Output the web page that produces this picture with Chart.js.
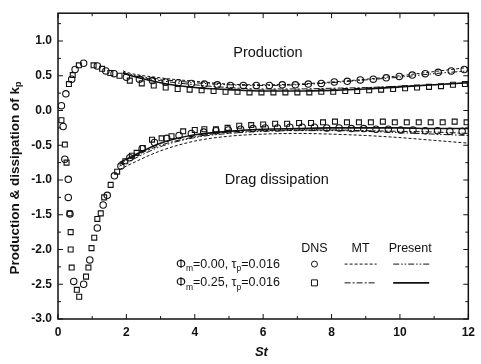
<!DOCTYPE html>
<html>
<head>
<meta charset="utf-8">
<script src="https://cdn.jsdelivr.net/npm/chart.js@4.4.1/dist/chart.umd.min.js"></script>
<style>
  html, body { margin: 0; padding: 0; background: #fff; }
  #wrap { width: 481px; height: 364px; }
</style>
</head>
<body>
<div id="wrap"><canvas id="c"></canvas></div>
<script>
// DNS, phi_m = 0.00 (circles): [St, value]
const dnsProd0 = [[0.10,0.07],[0.23,0.24],[0.40,0.45],[0.50,0.59],[0.75,0.68],[1.15,0.64],[1.40,0.57],[1.64,0.53],
  [2.00,0.48],[2.38,0.45],[2.76,0.43],[3.14,0.41],[3.52,0.40],[3.90,0.39],[4.28,0.38],[4.66,0.37],[5.04,0.36],
  [5.42,0.36],[5.80,0.36],[6.18,0.36],[6.56,0.37],[6.94,0.37],[7.32,0.38],[7.70,0.39],[8.08,0.41],[8.46,0.42],
  [8.84,0.44],[9.22,0.45],[9.60,0.47],[9.98,0.49],[10.36,0.51],[10.74,0.53],[11.12,0.55],[11.50,0.57],[11.88,0.59]];
const dnsDiss0 = [[0.15,-0.23],[0.20,-0.70],[0.30,-0.99],[0.30,-1.25],[0.35,-1.49],[0.46,-2.46],[0.75,-2.50],[0.93,-2.15],
  [1.15,-1.69],[1.32,-1.36],[1.44,-1.22],[1.65,-0.94],[1.84,-0.80],[2.10,-0.68],[2.46,-0.55],[2.82,-0.46],[3.18,-0.40],
  [3.54,-0.36],[3.90,-0.33],[4.26,-0.31],[4.62,-0.29],[4.98,-0.28],[5.34,-0.27],[5.70,-0.26],[6.06,-0.25],[6.42,-0.25],
  [6.78,-0.24],[7.14,-0.24],[7.50,-0.24],[7.86,-0.25],[8.22,-0.25],[8.58,-0.26],[8.94,-0.26],[9.30,-0.27],[9.66,-0.27],
  [10.02,-0.28],[10.38,-0.28],[10.74,-0.29],[11.10,-0.29],[11.46,-0.30],[11.82,-0.30]];

// DNS, phi_m = 0.25 (squares)
const dnsProd25 = [[0.32,0.38],[0.43,0.51],[0.61,0.65],[1.04,0.65],[1.29,0.60],[1.53,0.54],[1.80,0.50],[2.10,0.43],
  [2.45,0.39],[2.80,0.36],[3.15,0.33],[3.50,0.31],[3.85,0.30],[4.20,0.29],[4.55,0.28],[4.90,0.27],[5.25,0.27],
  [5.60,0.26],[5.95,0.26],[6.30,0.26],[6.65,0.26],[7.00,0.26],[7.35,0.26],[7.70,0.27],[8.05,0.27],[8.40,0.28],
  [8.75,0.28],[9.10,0.29],[9.45,0.30],[9.80,0.31],[10.15,0.32],[10.50,0.33],[10.85,0.34],[11.20,0.35],[11.55,0.37],[11.90,0.38]];
const dnsDiss25 = [[0.10,-0.14],[0.20,-0.49],[0.25,-0.75],[0.34,-1.48],[0.37,-1.75],[0.37,-2.00],[0.40,-2.26],[0.55,-2.58],
  [0.62,-2.68],[0.82,-2.39],[0.89,-2.26],[0.98,-1.98],[1.06,-1.83],[1.15,-1.56],[1.25,-1.48],[1.35,-1.25],[1.54,-1.07],
  [1.73,-0.88],[1.97,-0.73],[2.16,-0.65],[2.30,-0.61],[2.48,-0.54],[2.75,-0.42],[3.03,-0.40],[3.32,-0.37],[3.66,-0.30],
  [4.00,-0.28],[4.28,-0.27],[4.62,-0.27],[4.96,-0.25],[5.30,-0.22],[5.65,-0.21],[6.00,-0.20],[6.35,-0.19],[6.70,-0.19],
  [7.05,-0.18],[7.40,-0.18],[7.75,-0.17],[8.10,-0.16],[8.45,-0.17],[8.80,-0.17],[9.15,-0.17],[9.50,-0.16],[9.85,-0.17],
  [10.20,-0.17],[10.55,-0.17],[10.90,-0.17],[11.25,-0.17],[11.60,-0.16],[11.95,-0.17]];

// model curves
const mtProd0 = [[1.9,0.57],[2,0.55],[3,0.47],[4,0.42],[5,0.38],[6,0.37],[7,0.38],[8,0.41],[9,0.45],[10,0.50],[11,0.56],[12,0.62]];
const prProd0 = [[1.9,0.55],[2,0.53],[3,0.45],[4,0.40],[5,0.37],[6,0.36],[7,0.37],[8,0.40],[9,0.44],[10,0.48],[11,0.53],[12,0.57]];
const mtProd25 = [[1.9,0.55],[2,0.53],[3,0.43],[4,0.37],[5,0.33],[6,0.31],[7,0.31],[8,0.32],[9,0.33],[10,0.35],[11,0.37],[12,0.40]];
const prProd25 = [[1.9,0.54],[2,0.52],[3,0.40],[4,0.33],[5,0.30],[6,0.28],[7,0.28],[8,0.29],[9,0.31],[10,0.34],[11,0.37],[12,0.40]];
const mtDiss0 = [[1.8,-0.85],[2,-0.80],[3,-0.58],[4,-0.44],[5,-0.37],[6,-0.34],[7,-0.33],[8,-0.34],[9,-0.36],[10,-0.39],[11,-0.43],[12,-0.47]];
const prDiss0 = [[1.8,-0.80],[2,-0.75],[3,-0.52],[4,-0.39],[5,-0.33],[6,-0.30],[7,-0.29],[8,-0.29],[9,-0.30],[10,-0.32],[11,-0.34],[12,-0.36]];
const mtDiss25 = [[1.8,-0.78],[2,-0.72],[3,-0.50],[4,-0.38],[5,-0.31],[6,-0.29],[7,-0.28],[8,-0.28],[9,-0.29],[10,-0.30],[11,-0.31],[12,-0.33]];
const prDiss25 = [[1.8,-0.75],[2,-0.70],[3,-0.47],[4,-0.35],[5,-0.30],[6,-0.27],[7,-0.26],[8,-0.25],[9,-0.25],[10,-0.25],[11,-0.26],[12,-0.26]];

const xTicks = [0, 2, 4, 6, 8, 10, 12];
const yTicks = [-3.0, -2.5, -2.0, -1.5, -1.0, -0.5, 0.0, 0.5, 1.0];

const ink = '#111';
const FONT = '"Liberation Sans", Arial, sans-serif';
const dash = { mt0: [3, 2], pr0: [6, 2, 1.5, 2, 1.5, 2], mt25: [6, 2, 2, 2], pr25: [] };

const pts = arr => arr.map(p => ({ x: p[0], y: p[1] }));

function markers(data, shape) {
  return {
    data: pts(data), showLine: false, pointStyle: shape,
    pointRadius: shape === 'rect' ? 3.5 : 3.2, pointBackgroundColor: 'rgba(255,255,255,0)',
    pointBorderColor: ink, pointBorderWidth: 1.1, pointHoverRadius: 3
  };
}
function curve(data, d, w) {
  return {
    data: pts(data), showLine: true, pointRadius: 0, borderColor: ink,
    borderWidth: w, borderDash: d, tension: 0.4, cubicInterpolationMode: 'monotone', fill: false
  };
}

// frame, inward ticks, texts and legend
const decor = {
  id: 'decor',
  afterDraw(chart) {
    const { ctx, chartArea: a, scales: { x, y } } = chart;
    ctx.save();
    ctx.strokeStyle = ink;
    ctx.lineWidth = 1.5;
    ctx.strokeRect(a.left, a.top, a.right - a.left, a.bottom - a.top);
    ctx.lineWidth = 1;
    ctx.beginPath();
    for (let v = 0; v <= 12; v += 1) {
      const px = x.getPixelForValue(v), L = v % 2 === 0 ? 5 : 3;
      ctx.moveTo(px, a.bottom); ctx.lineTo(px, a.bottom - L);
      ctx.moveTo(px, a.top); ctx.lineTo(px, a.top + L);
    }
    for (let v = -3; v <= 1.26; v += 0.25) {
      const py = y.getPixelForValue(v), L = Math.abs(v * 2 - Math.round(v * 2)) < 1e-6 ? 5 : 3;
      ctx.moveTo(a.left, py); ctx.lineTo(a.left + L, py);
      ctx.moveTo(a.right, py); ctx.lineTo(a.right - L, py);
    }
    ctx.stroke();

    ctx.fillStyle = ink;
    ctx.textBaseline = 'middle';
    ctx.textAlign = 'center';
    ctx.font = '14.5px ' + FONT;
    ctx.fillText('Production', x.getPixelForValue(6.14), y.getPixelForValue(0.83));
    ctx.fillText('Drag dissipation', x.getPixelForValue(6.4), y.getPixelForValue(-1.0));

    // x title
    ctx.font = 'italic bold 13px ' + FONT;
    ctx.fillText('St', x.getPixelForValue(5.95), 352);

    // y title with subscript
    ctx.save();
    ctx.translate(15, (a.top + a.bottom) / 2 + 12);
    ctx.rotate(-Math.PI / 2);
    ctx.font = 'bold 13.5px ' + FONT;
    const t1 = 'Production & dissipation of k';
    const w1 = ctx.measureText(t1).width;
    ctx.font = 'bold 9px ' + FONT;
    const w2 = ctx.measureText('p').width;
    const sx = -(w1 + w2) / 2;
    ctx.font = 'bold 13.5px ' + FONT;
    ctx.textAlign = 'left';
    ctx.fillText(t1, sx, 0);
    ctx.font = 'bold 9px ' + FONT;
    ctx.fillText('p', sx + w1, 4);
    ctx.restore();

    // legend
    ctx.font = '12.5px ' + FONT;
    ctx.textAlign = 'center';
    const hy = y.getPixelForValue(-1.98);
    const cDNS = x.getPixelForValue(7.5), cMT = x.getPixelForValue(8.85), cPR = x.getPixelForValue(10.3);
    ctx.fillText('DNS', cDNS, hy);
    ctx.fillText('MT', cMT, hy);
    ctx.fillText('Present', cPR, hy);
    const rows = [
      { v: -2.21, phi: '0.00', shape: 'circle', mt: dash.mt0, pr: dash.pr0, w: 1 },
      { v: -2.48, phi: '0.25', shape: 'rect', mt: dash.mt25, pr: dash.pr25, w: 1.6 }
    ];
    rows.forEach(r => {
      const py = y.getPixelForValue(r.v);
      let px = x.getPixelForValue(3.45);
      ctx.textAlign = 'left';
      const seg = (s, big) => {
        ctx.font = (big ? '12.5px ' : '8.5px ') + FONT;
        ctx.fillText(s, px, big ? py : py + 5);
        px += ctx.measureText(s).width;
      };
      seg('Φ', true); seg('m', false); seg('=' + r.phi + ', τ', true); seg('p', false); seg('=0.016', true);
      ctx.lineWidth = 1;
      ctx.setLineDash([]);
      ctx.beginPath();
      if (r.shape === 'circle') ctx.arc(cDNS, py, 3, 0, Math.PI * 2);
      else ctx.rect(cDNS - 3, py - 3, 6, 6);
      ctx.stroke();
      ctx.beginPath();
      ctx.setLineDash(r.mt);
      ctx.moveTo(cMT - 16, py); ctx.lineTo(cMT + 16, py);
      ctx.stroke();
      ctx.beginPath();
      ctx.lineWidth = r.w;
      ctx.setLineDash(r.pr);
      ctx.moveTo(cPR - 17, py); ctx.lineTo(cPR + 19, py);
      ctx.stroke();
    });
    ctx.restore();
  }
};

new Chart(document.getElementById('c'), {
  type: 'scatter',
  data: {
    datasets: [
      curve(mtProd0, dash.mt0, 1), curve(prProd0, dash.pr0, 1),
      curve(mtProd25, dash.mt25, 1), curve(prProd25, dash.pr25, 1.6),
      curve(mtDiss0, dash.mt0, 1), curve(prDiss0, dash.pr0, 1),
      curve(mtDiss25, dash.mt25, 1), curve(prDiss25, dash.pr25, 1.6),
      markers(dnsProd0, 'circle'), markers(dnsDiss0, 'circle'),
      markers(dnsProd25, 'rect'), markers(dnsDiss25, 'rect')
    ]
  },
  options: {
    responsive: true,
    maintainAspectRatio: false,
    animation: false,
    layout: { padding: { left: 0, right: 7, top: 7, bottom: 0 } },
    scales: {
      x: {
        type: 'linear', min: 0, max: 12,
        afterFit: s => { s.height = 45; },
        afterBuildTicks: s => { s.ticks = xTicks.map(v => ({ value: v })); },
        ticks: { color: ink, padding: 6, font: { family: FONT, size: 12, weight: 'bold' }, callback: v => String(v) },
        grid: { display: false, drawTicks: false }, border: { display: false }
      },
      y: {
        type: 'linear', min: -3, max: 1.4,
        afterFit: s => { s.width = 58; },
        afterBuildTicks: s => { s.ticks = yTicks.map(v => ({ value: v })); },
        ticks: { color: ink, padding: 6, font: { family: FONT, size: 12, weight: 'bold' }, callback: v => v.toFixed(1) },
        grid: { display: false, drawTicks: false }, border: { display: false }
      }
    },
    plugins: { legend: { display: false }, tooltip: { enabled: false } }
  },
  plugins: [decor]
});
</script>
</body>
</html>
